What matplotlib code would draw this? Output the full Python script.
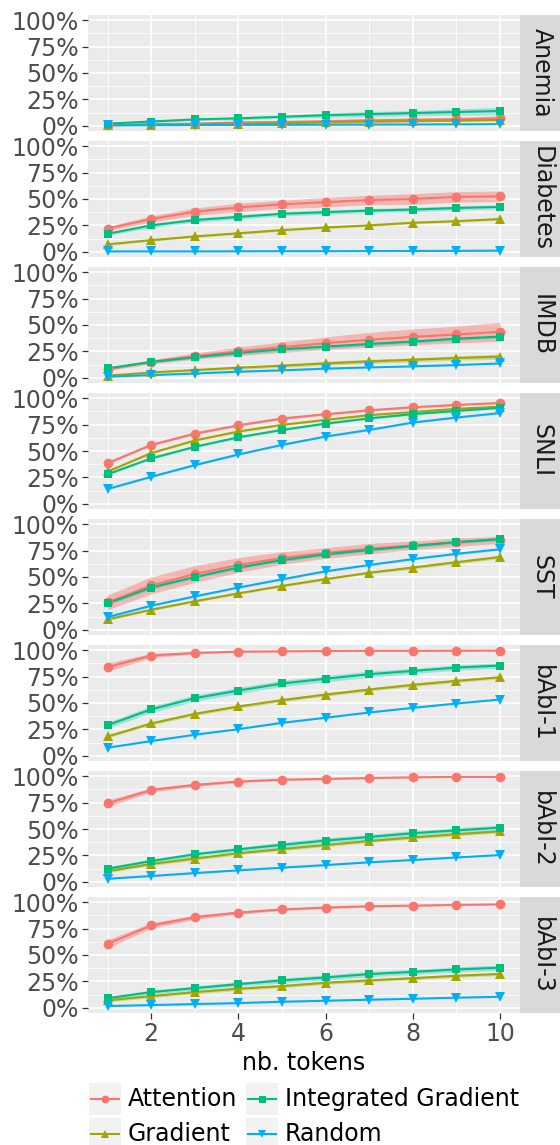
import matplotlib
matplotlib.use('Agg')
import matplotlib.pyplot as plt
from matplotlib.patches import Rectangle
from matplotlib.lines import Line2D
from matplotlib.ticker import MultipleLocator

# x axis: number of tokens removed
tokens = [1, 2, 3, 4, 5, 6, 7, 8, 9, 10]
datasets = ['Anemia', 'Diabetes', 'IMDB', 'SNLI', 'SST', 'bAbI-1', 'bAbI-2', 'bAbI-3']
methods = ['Attention', 'Gradient', 'Integrated Gradient', 'Random']

# mean values in %, one row per dataset
attention = [
    [1, 1.5, 2, 3, 3.5, 4, 5, 5.5, 6, 7],
    [22, 31, 38, 42, 45, 47, 49, 50, 52, 52.5],
    [8, 15, 20.5, 25, 29, 32.7, 36, 38.7, 41, 43.5],
    [38.5, 55.8, 66.5, 74.4, 80.8, 84.9, 88.6, 91.5, 93.7, 95.6],
    [26, 42, 52.8, 61.4, 68, 72.8, 76.9, 80, 83, 85.4],
    [84, 95, 97.5, 98.7, 99, 99.3, 99.5, 99.5, 99.6, 99.7],
    [74.4, 87, 91.8, 95, 96.8, 97.5, 98.4, 99, 99.4, 99.4],
    [60.6, 78, 85.8, 90.2, 93.2, 95, 96.2, 96.8, 97.5, 98],
]
gradient = [
    [0.5, 1, 1.5, 2, 2.5, 3.5, 4, 4.5, 5, 5.5],
    [7, 11, 14.5, 17.5, 20.5, 23, 25, 27.5, 29, 31],
    [2, 5, 7.3, 9.5, 11.4, 13.6, 15.5, 17, 18.7, 20],
    [30.6, 48, 60, 68.5, 74.8, 79.5, 84, 87, 90, 92],
    [9.8, 19, 27, 34.5, 41.5, 48, 54, 59, 64, 69],
    [18.3, 30.6, 39.7, 46.7, 52.7, 58, 62.8, 67.2, 71, 74.4],
    [10, 16.8, 22, 27, 31, 34.8, 38.6, 42, 45, 47.8],
    [7, 11, 14.8, 18, 20.5, 23.7, 25.9, 28, 30.3, 32],
]
integrated = [
    [2, 4, 6, 7, 8.5, 10, 11, 12, 13, 14],
    [17, 25, 30, 33, 36, 37.5, 39, 40, 41.5, 42.5],
    [9, 15, 19.4, 23.5, 27, 29.5, 32, 34.3, 37, 39],
    [28, 43, 54, 63, 70, 76, 81, 85, 88, 91],
    [25, 40, 50, 59, 66, 71.5, 75.6, 79.4, 83, 86],
    [29, 44, 54.6, 61.8, 68.5, 73, 77.3, 80.4, 83.6, 85.5],
    [12.3, 19.6, 26, 30.7, 35, 39, 42.4, 46, 48.7, 51.3],
    [9, 14.8, 18.6, 22.4, 25.9, 28.7, 31.9, 34, 36.3, 38],
]
random_ = [
    [0.3, 0.5, 0.6, 0.8, 0.9, 1, 1.1, 1.2, 1.3, 1.5],
    [0.3, 0.3, 0.3, 0.4, 0.5, 0.5, 0.6, 0.7, 0.8, 1],
    [1, 2.5, 4, 5.7, 7, 8.6, 9.8, 10.8, 12, 13.5],
    [14, 25.5, 36.6, 46.7, 55.8, 63.7, 70, 77, 81.7, 86],
    [12, 22.8, 31.6, 40, 47.8, 55.4, 61.4, 67, 72, 76.3],
    [7.6, 13.9, 19.9, 25.2, 31.2, 36, 41, 45.4, 49.5, 53.3],
    [2.8, 5.4, 8.2, 10.8, 13.3, 15.8, 18.4, 20.6, 23, 25.3],
    [1.6, 2.5, 3.5, 4.4, 5.7, 6.6, 7.6, 8.5, 9.5, 10.4],
]

# half width of the confidence ribbons in %
attention_ci = [
    [0.5, 1, 1, 1.5, 1.5, 2, 2, 2, 2, 2.5],
    [2, 3, 3.5, 4, 4, 4.5, 4.5, 5, 5, 5],
    [1, 2, 3, 4, 5, 6, 7, 7.5, 8, 9],
    [1, 1, 1, 1, 1, 1, 0.8, 0.8, 0.8, 0.8],
    [7, 8, 8, 7, 6, 5, 5, 4, 4, 3.5],
    [4, 2, 1, 0.5, 0.5, 0.4, 0.3, 0.3, 0.3, 0.3],
    [3, 2, 1.5, 1, 0.8, 0.6, 0.5, 0.4, 0.3, 0.3],
    [4, 2.5, 2, 1.5, 1, 1, 0.6, 0.5, 0.5, 0.5],
]
gradient_ci = [
    [0.5, 0.5, 0.5, 0.5, 0.5, 0.5, 0.5, 0.5, 0.5, 0.5],
    [1, 1, 1, 1, 1, 1, 1, 1, 1, 1],
    [0.5, 1, 1, 1.5, 1.5, 2, 2, 2, 2, 2.5],
    [0.8, 0.8, 0.8, 0.8, 0.8, 0.8, 0.8, 0.8, 0.8, 0.8],
    [1, 1, 1, 1, 1, 1, 1, 1.5, 1.5, 1.5],
    [1.5, 1.5, 1.5, 1.5, 1.5, 1.5, 1.5, 1.5, 1.5, 1.5],
    [1.5, 1.5, 1.5, 1.5, 1.5, 1.5, 1.5, 1.5, 1.5, 1.5],
    [1.5, 1.5, 1.5, 1.5, 1.5, 1.5, 1.5, 1.5, 1.5, 1.5],
]
integrated_ci = [
    [0.5, 1, 1, 1.5, 1.5, 2, 2.5, 2.5, 3, 3.5],
    [1.5, 2, 2, 2, 2, 2, 2, 2, 2, 2],
    [1, 1, 1, 1.5, 1.5, 1.5, 1.5, 1.5, 1.5, 1.5],
    [1, 1, 1, 1, 1, 1, 1, 1, 1, 1],
    [1.5, 1.5, 1.5, 1.5, 1.5, 1.5, 1.5, 1.5, 1.5, 1.5],
    [3, 3, 3, 3, 3, 3, 3, 2.5, 2.5, 2.5],
    [2, 2, 2, 2, 2.5, 2.5, 2.5, 2.5, 2.5, 2.5],
    [2, 2, 2, 2, 2.5, 2.5, 2.5, 2.5, 2.5, 2.5],
]
random_ci = [
    [0.3, 0.3, 0.3, 0.3, 0.3, 0.3, 0.3, 0.3, 0.3, 0.3],
    [0.3, 0.3, 0.3, 0.3, 0.3, 0.3, 0.3, 0.3, 0.3, 0.3],
    [0.5, 0.5, 0.5, 0.5, 0.5, 0.5, 0.5, 0.5, 0.5, 0.5],
    [0.8, 0.8, 0.8, 0.8, 0.8, 0.8, 0.8, 0.8, 0.8, 0.8],
    [1, 1, 1, 1, 1, 1, 1, 1, 1, 1],
    [0.5, 0.5, 0.5, 0.5, 0.5, 0.5, 0.5, 0.5, 0.5, 0.5],
    [0.5, 0.5, 0.5, 0.5, 0.5, 0.5, 0.5, 0.5, 0.5, 0.5],
    [0.5, 0.5, 0.5, 0.5, 0.5, 0.5, 0.5, 0.5, 0.5, 0.5],
]

series = [attention, gradient, integrated, random_]
ribbons = [attention_ci, gradient_ci, integrated_ci, random_ci]
line_colors = ['#F8766D', '#A3A500', '#00BF7D', '#00B0F6']
fill_colors = ['#F8766D', '#7CAE00', '#00BFC4', '#C77CFF']
fill_alpha = [0.45, 0.3, 0.3, 0.3]
markers = ['o', '^', 's', 'v']
msizes = [7, 7, 6.3, 7]

W, H = 560, 1145
FS = 17


def px(left, top, width, height):
    return [left / W, 1 - (top + height) / H, width / W, height / H]


fig = plt.figure(figsize=(W / 100, H / 100), dpi=100)

p_left, p_width = 88, 431.6
p_top0, p_height, p_step = 15, 116, 126

for i, name in enumerate(datasets):
    top = p_top0 + i * p_step
    ax = fig.add_axes(px(p_left, top, p_width, p_height))
    ax.set_facecolor('#EBEBEB')
    for s in ax.spines.values():
        s.set_visible(False)
    ax.set_xlim(0.55, 10.45)
    ax.set_ylim(-5, 105)
    ax.set_yticks([0, 25, 50, 75, 100])
    ax.set_yticklabels(['0%', '25%', '50%', '75%', '100%'])
    ax.yaxis.set_minor_locator(MultipleLocator(12.5))
    ax.set_xticks([2, 4, 6, 8, 10])
    ax.xaxis.set_minor_locator(MultipleLocator(1))
    ax.grid(which='major', color='white', lw=1.2)
    ax.grid(which='minor', color='white', lw=0.6)
    ax.set_axisbelow(True)
    ax.tick_params(which='major', length=4, width=0.9, color='#333333',
                   labelsize=FS, labelcolor='#4D4D4D', pad=2.5)
    ax.tick_params(which='minor', length=0)
    if i < len(datasets) - 1:
        ax.tick_params(axis='x', which='major', length=0, labelbottom=False)

    for k in range(len(methods)):
        mean = series[k][i]
        ci = ribbons[k][i]
        lo = [m - c for m, c in zip(mean, ci)]
        hi = [m + c for m, c in zip(mean, ci)]
        ax.fill_between(tokens, lo, hi, color=fill_colors[k], alpha=fill_alpha[k],
                        lw=0, zorder=2)
    for k in range(len(methods)):
        ax.plot(tokens, series[k][i], color=line_colors[k], lw=1.5, zorder=3)
    for k in range(len(methods)):
        ax.plot(tokens, series[k][i], ls='none', marker=markers[k], ms=msizes[k],
                color=line_colors[k], mew=0, zorder=4)

    # facet strip on the right
    st = fig.add_axes(px(p_left + p_width, top, 40, p_height))
    st.set_facecolor('#D9D9D9')
    st.set_xticks([])
    st.set_yticks([])
    for s in st.spines.values():
        s.set_visible(False)
    st.text(0.55, 0.5, name, rotation=-90, ha='center', va='center',
            fontsize=FS, color='#1A1A1A', transform=st.transAxes)

# axis title and legend drawn in pixel space
ov = fig.add_axes([0, 0, 1, 1])
ov.set_xlim(0, W)
ov.set_ylim(H, 0)
ov.axis('off')
ov.text(p_left + p_width / 2, 1063, 'nb. tokens', ha='center', va='center',
        fontsize=FS, color='black')

legend_pos = [(89, 1099), (89, 1134), (246, 1099), (246, 1134)]
for k, (kx, ky) in enumerate(legend_pos):
    ov.add_patch(Rectangle((kx, ky - 16), 32, 32, color='#F2F2F2', lw=0))
    ov.add_line(Line2D([kx + 2, kx + 30], [ky, ky], color=line_colors[k], lw=1.5))
    ov.plot([kx + 16], [ky], marker=markers[k], ms=msizes[k] * 0.8,
            color=line_colors[k], mew=0, ls='none')
    ov.text(kx + 39, ky, methods[k], ha='left', va='center', fontsize=FS,
            color='black')

fig.savefig('out.png', dpi=100)
